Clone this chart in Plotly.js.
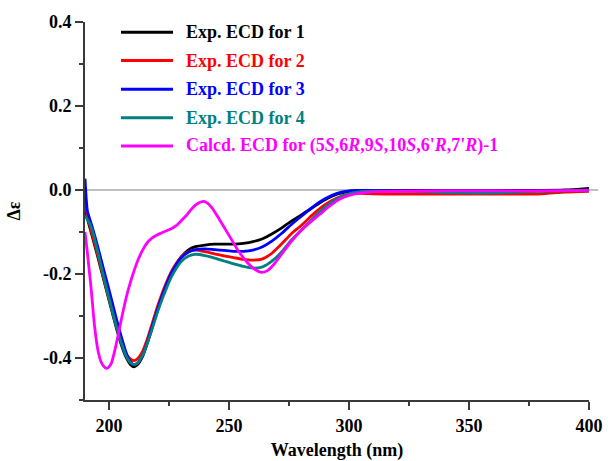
<!DOCTYPE html>
<html>
<head>
<meta charset="utf-8">
<script src="https://cdn.plot.ly/plotly-3.0.1.min.js"></script>
<style>
html,body{margin:0;padding:0;background:#fff;}
#chart{width:611px;height:461px;}
</style>
</head>
<body>
<div id="chart"></div>
<script>
// ---- data ----
const wavelengthExp = [190, 190.5, 191, 193, 195, 197, 199, 201, 203, 205, 207, 209, 210.5, 212, 214, 216, 218, 220, 222, 224, 226, 228, 230, 233, 236, 240, 244, 248, 252, 256, 260, 264, 268, 272, 276, 280, 285, 290, 295, 300, 305, 310, 320, 330, 340, 350, 360, 370, 380, 390, 400];

const exp1 = [-0.04, -0.055, -0.068, -0.11, -0.152, -0.196, -0.24, -0.284, -0.327, -0.366, -0.397, -0.416, -0.421, -0.415, -0.396, -0.364, -0.328, -0.29, -0.256, -0.225, -0.198, -0.177, -0.16, -0.143, -0.135, -0.131, -0.129, -0.129, -0.129, -0.127, -0.123, -0.116, -0.104, -0.09, -0.074, -0.06, -0.041, -0.023, -0.01, -0.003, -0.001, -0.001, -0.001, -0.001, -0.002, -0.002, -0.002, -0.001, -0.001, 0, 0.004];

const exp2 = [-0.025, -0.045, -0.062, -0.105, -0.148, -0.192, -0.236, -0.28, -0.322, -0.36, -0.389, -0.403, -0.406, -0.401, -0.384, -0.354, -0.318, -0.281, -0.248, -0.219, -0.194, -0.175, -0.16, -0.147, -0.143, -0.147, -0.152, -0.157, -0.161, -0.165, -0.167, -0.164, -0.15, -0.128, -0.104, -0.085, -0.058, -0.035, -0.019, -0.01, -0.008, -0.009, -0.01, -0.01, -0.01, -0.01, -0.01, -0.01, -0.009, -0.005, -0.003];

const exp3 = [0.027, -0.02, -0.05, -0.088, -0.128, -0.172, -0.216, -0.26, -0.305, -0.347, -0.385, -0.41, -0.416, -0.412, -0.394, -0.362, -0.325, -0.288, -0.254, -0.224, -0.198, -0.178, -0.162, -0.148, -0.142, -0.14, -0.142, -0.144, -0.146, -0.146, -0.143, -0.135, -0.121, -0.103, -0.082, -0.063, -0.04, -0.021, -0.008, -0.002, -0.001, -0.001, -0.002, -0.002, -0.002, -0.002, -0.002, -0.002, -0.002, -0.001, -0.001];

const exp4 = [-0.062, -0.066, -0.07, -0.095, -0.14, -0.188, -0.235, -0.28, -0.323, -0.362, -0.394, -0.412, -0.416, -0.411, -0.394, -0.364, -0.33, -0.294, -0.262, -0.233, -0.207, -0.187, -0.171, -0.158, -0.153, -0.156, -0.162, -0.169, -0.176, -0.182, -0.186, -0.183, -0.169, -0.147, -0.119, -0.096, -0.067, -0.041, -0.021, -0.009, -0.004, -0.003, -0.003, -0.004, -0.006, -0.007, -0.007, -0.005, -0.003, -0.002, 0];

const wavelengthCalc = [190, 191, 192.5, 194, 195.5, 197, 198.5, 199.5, 201, 202.5, 204, 206, 208, 210, 212, 214, 216, 218, 220, 222, 224, 226, 228, 230, 232, 234, 236, 238, 239.5, 241, 243, 246, 250, 254, 258, 261, 263.5, 266, 269, 272, 276, 280, 284, 288, 292, 296, 300, 305, 312, 320, 340, 360, 380, 400];

const calc1 = [-0.1, -0.15, -0.232, -0.325, -0.385, -0.413, -0.424, -0.424, -0.412, -0.38, -0.34, -0.285, -0.238, -0.2, -0.168, -0.143, -0.125, -0.114, -0.107, -0.102, -0.097, -0.092, -0.085, -0.074, -0.062, -0.048, -0.036, -0.029, -0.027, -0.031, -0.043, -0.07, -0.108, -0.146, -0.175, -0.19, -0.196, -0.192, -0.175, -0.152, -0.122, -0.097, -0.076, -0.057, -0.038, -0.022, -0.013, -0.007, -0.004, -0.003, -0.002, -0.002, -0.002, -0.001];

const seriesNames = ["Exp. ECD for 1", "Exp. ECD for 2", "Exp. ECD for 3", "Exp. ECD for 4",
  "Calcd. ECD for (5<i>S</i>,6<i>R</i>,9<i>S</i>,10<i>S</i>,6'<i>R</i>,7'<i>R</i>)-1"];
const seriesColors = ["#000000", "#ff0000", "#0000ff", "#008080", "#ff00ff"];

const xTickVals = [200, 250, 300, 350, 400];
const xTickText = ["200", "250", "300", "350", "400"];
const yTickVals = [-0.4, -0.2, 0, 0.2, 0.4];
const yTickText = ["-0.4", "-0.2", "0.0", "0.2", "0.4"];

// ---- build ----
const FONT = "Liberation Serif";
const FSIZE = 18;
const xs = [wavelengthExp, wavelengthExp, wavelengthExp, wavelengthExp, wavelengthCalc];
const ys = [exp1, exp2, exp3, exp4, calc1];

const traces = ys.map((y, i) => ({
  type: "scatter", mode: "lines",
  x: xs[i], y: y,
  name: seriesNames[i],
  line: {color: seriesColors[i], width: 2.8, shape: "spline", smoothing: 0.6},
  showlegend: false, hoverinfo: "skip"
}));

// manual legend
const legendRowsY = [0.973, 0.898, 0.822, 0.747, 0.672];
const shapes = [{
  type: "line", xref: "paper", yref: "y", x0: 0, x1: 1.018, y0: 0, y1: 0,
  line: {color: "#aaaaaa", width: 1.3}, layer: "below"
}];
const annotations = [];
seriesNames.forEach((n, i) => {
  shapes.push({
    type: "line", xref: "paper", yref: "paper",
    x0: 0.0714, x1: 0.1746, y0: legendRowsY[i], y1: legendRowsY[i],
    line: {color: seriesColors[i], width: 3}
  });
  annotations.push({
    xref: "paper", yref: "paper", x: 0.196, y: legendRowsY[i],
    xanchor: "left", yanchor: "middle", showarrow: false,
    text: "<b>" + n + "</b>", font: {family: FONT, size: FSIZE, color: seriesColors[i]}
  });
});

const axisCommon = {
  showgrid: false, zeroline: false, showline: true,
  linecolor: "#3a3a3a", linewidth: 2,
  ticks: "outside", ticklen: 8, tickwidth: 2, tickcolor: "#3a3a3a",
  tickfont: {family: FONT, size: FSIZE, weight: "bold", color: "#000"}
};

const layout = {
  width: 611, height: 461,
  margin: {l: 85, r: 22, t: 22, b: 61},
  paper_bgcolor: "#fff", plot_bgcolor: "#fff",
  font: {family: FONT, size: FSIZE, color: "#000"},
  xaxis: Object.assign({}, axisCommon, {
    range: [190, 400], tickmode: "array", tickvals: xTickVals, ticktext: xTickText,
    minor: {dtick: 25, tick0: 200, ticks: "outside", ticklen: 4, tickwidth: 2, tickcolor: "#3a3a3a", showgrid: false},
    title: {text: "<b>Wavelength (nm)</b>", standoff: 10, font: {family: FONT, size: FSIZE, color: "#000"}}
  }),
  yaxis: Object.assign({}, axisCommon, {
    range: [-0.5, 0.4], tickmode: "array", tickvals: yTickVals, ticktext: yTickText,
    minor: {dtick: 0.1, tick0: 0, ticks: "outside", ticklen: 4, tickwidth: 2, tickcolor: "#3a3a3a", showgrid: false},
    title: {text: "<b>Δε</b>", standoff: 18, font: {family: FONT, size: FSIZE, color: "#000"}}
  }),
  shapes: shapes,
  annotations: annotations,
  showlegend: false
};

Plotly.newPlot("chart", traces, layout, {displayModeBar: false, staticPlot: true});
</script>
</body>
</html>
